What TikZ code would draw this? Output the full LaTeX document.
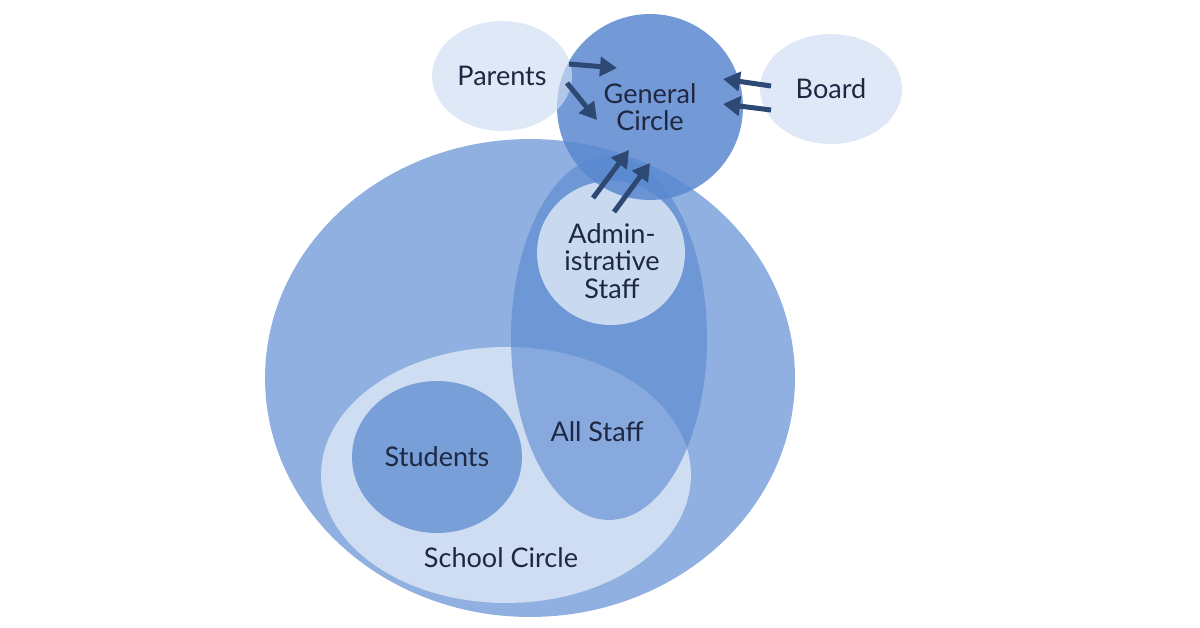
\documentclass[tikz,border=0pt]{standalone}
\usepackage{fontspec}
\setmainfont{Lato}
\usetikzlibrary{arrows.meta,shapes.geometric}
\definecolor{skyblue}{RGB}{143,176,224}
\definecolor{paleblue}{RGB}{207,221,242}
\definecolor{studentblue}{RGB}{121,159,217}
\definecolor{staffblue}{RGB}{89,135,207}
\definecolor{adminblue}{RGB}{201,217,240}
\definecolor{gcblue}{RGB}{90,136,208}
\definecolor{navy}{RGB}{45,72,115}
\definecolor{ink}{RGB}{30,40,66}
\tikzset{
  blob/.style={ellipse,inner sep=0pt,text=ink,align=center,
    font=\fontsize{15.4}{15.6}\selectfont},
  lbl/.style={text=ink,align=center,inner sep=0pt,
    font=\fontsize{15.4}{15.6}\selectfont},
  arr/.style={navy,line width=0.1cm,-{Triangle[length=0.34cm,width=0.38cm]}}
}

\begin{document}
\begin{tikzpicture}[x=0.02cm,y=-0.02cm]
        \useasboundingbox (0,0) rectangle (1200,628);
        % circles, back to front
        \node[blob,fill=skyblue,minimum width=10.6cm,minimum height=9.56cm] (org) at (530,378) {};
        \node[blob,fill=paleblue,minimum width=7.4cm,minimum height=5.12cm] (school) at (506,475) {};
        \node[blob,fill=studentblue,minimum width=3.4cm,minimum height=3.04cm] (students) at (437,457) {Students};
        \node[blob,fill=staffblue,fill opacity=0.6,minimum width=3.92cm,minimum height=7.28cm] (staff) at (609,338) {};
        \node[blob,fill=adminblue,minimum width=2.96cm,minimum height=2.88cm] (admin) at (611,253) {};
        \node[blob,fill=gcblue,fill opacity=0.85,text opacity=1,minimum size=3.72cm] (gc) at (650,107) {General\\Circle};
        \node[blob,fill=paleblue,fill opacity=0.67,text opacity=1,minimum width=2.8cm,minimum height=2.2cm] (parents) at (502,76) {Parents};
        \node[blob,fill=paleblue,fill opacity=0.67,text opacity=1,minimum width=2.84cm,minimum height=2.2cm] (board) at (831,89) {Board};
        % labels off centre
        \node[lbl] (adminlbl) at (612,261) {Admin-\\istrative\\Staff};
        \node[lbl] (stafflbl) at (597,432) {All Staff};
        \node[lbl] (schoollbl) at (501,558) {School Circle};
        % arrows into the general circle
        \draw[arr] ([shift={(67,-12)}]parents.center) -- ([shift={(-33,-39)}]gc.center);
        \draw[arr] ([shift={(65,7)}]parents.center) -- ([shift={(-53,13)}]gc.center);
        \draw[arr] ([shift={(-60,-3)}]board.center) -- ([shift={(73,-28)}]gc.center);
        \draw[arr] ([shift={(-60,21)}]board.center) -- ([shift={(73,-3)}]gc.center);
        \draw[arr] ([shift={(-18,-55)}]admin.center) -- ([shift={(-21,43)}]gc.center);
        \draw[arr] ([shift={(3,-41)}]admin.center) -- ([shift={(0,56)}]gc.center);
      \end{tikzpicture}
\end{document}
